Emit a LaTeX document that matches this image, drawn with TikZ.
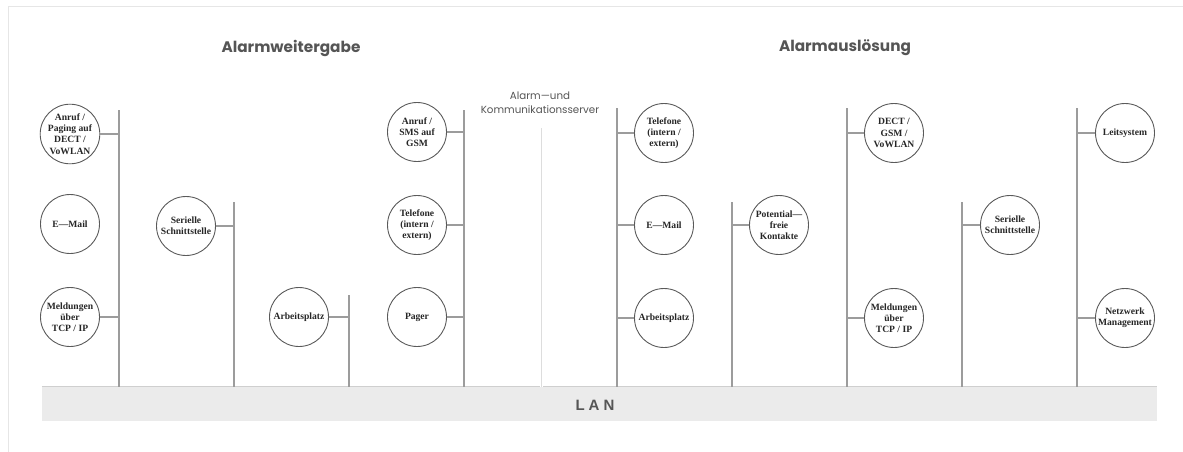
\documentclass[tikz,border=0pt]{standalone}
\usepackage{fontspec}
\setmainfont{Liberation Serif}
\newfontfamily\poppins{Poppins}
\newfontfamily\lansans{Liberation Sans}
\definecolor{busgray}{HTML}{9C9C9C}
\definecolor{circgray}{HTML}{5A5A5A}
\definecolor{titlegray}{HTML}{555555}
\definecolor{lanfill}{HTML}{EBEBEB}
\definecolor{lanedge}{HTML}{CFCFCF}
\definecolor{framegray}{HTML}{E6E6E6}
\definecolor{servergray}{HTML}{DDDDDD}
\tikzset{
  dev/.style={circle, draw=circgray, line width=0.9pt, minimum size=59pt, inner sep=0pt,
    align=center, font=\fontsize{9.6}{11.2}\selectfont\bfseries, text=black!85},
  bus/.style={draw=busgray, line width=1.1pt},
  stub/.style={draw=busgray, line width=1.1pt},
  title/.style={font=\poppins\fontsize{15.3}{17}\selectfont\bfseries, text=titlegray},
  lanbar/.style={fill=lanfill, draw=none, minimum width=1115pt, minimum height=34pt, inner sep=0pt,
    font=\lansans\fontsize{15}{15}\selectfont\bfseries, text=titlegray},
}
\begin{document}
\begin{tikzpicture}[x=1pt,y=-1pt]
\useasboundingbox (0,0) rectangle (1183,452);
% frame
\draw[framegray, line width=1pt] (8,452) -- (8,7) -- (1183,7);
% titles
\node[title] (t1) at (291,48) {Alarmweitergabe};
\node[title] (t2) at (845,48) {Alarmauslösung};
\node[font=\poppins\fontsize{10.3}{14}\selectfont, text=titlegray, align=center] (srv) at (540,103) {Alarm—und\\Kommunikationsserver};
% LAN
\node[lanbar] (lan) at (599.5,404) {};
\node[font=\lansans\fontsize{15}{15}\selectfont\bfseries, text=titlegray, inner sep=0pt] (lantext) at (595,405) {L\hspace{4pt}A\hspace{4pt}N};
\draw[lanedge, line width=0.8pt] (lan.north west) -- (lan.north east);
% bus tops
\coordinate (b1) at (119,110);
\coordinate (b2) at (234,202);
\coordinate (b3) at (349,295);
\coordinate (b4) at (464,110);
\coordinate (bs) at (541,128);
\coordinate (b5) at (617,108);
\coordinate (b6) at (732,202);
\coordinate (b7) at (847,108);
\coordinate (b8) at (962,202);
\coordinate (b9) at (1077,108);
\foreach \b in {b1,b2,b3,b4,b5,b6,b7,b8,b9}{
  \draw[bus] (\b) -- (\b |- lan.north);
}
\draw[white, line width=3pt] (bs) -- (bs |- lan.north);
\draw[servergray, line width=1pt] (bs) -- (bs |- lan.north);
% left side devices
\node[dev] (l1) at (70,134) {Anruf /\\Paging auf\\DECT /\\VoWLAN};
\node[dev] (l2) at (70,224) {E—Mail};
\node[dev] (l3) at (70,317) {Meldungen\\über\\TCP / IP};
\node[dev] (l4) at (186,226) {Serielle\\Schnittstelle};
\node[dev] (l5) at (299,317) {Arbeitsplatz};
\node[dev] (l6) at (417,132) {Anruf /\\SMS auf\\GSM};
\node[dev] (l7) at (417,225) {Telefone\\(intern /\\extern)};
\node[dev] (l8) at (417,317) {Pager};
\draw[stub] (l1.east) -- (l1.east -| b1);
\draw[stub] (l3.east) -- (l3.east -| b1);
\draw[stub] (l4.east) -- (l4.east -| b2);
\draw[stub] (l5.east) -- (l5.east -| b3);
\draw[stub] (l6.east) -- (l6.east -| b4);
\draw[stub] (l7.east) -- (l7.east -| b4);
\draw[stub] (l8.east) -- (l8.east -| b4);
% right side devices
\node[dev] (r1) at (664,133) {Telefone\\(intern /\\extern)};
\node[dev] (r2) at (664,225) {E—Mail};
\node[dev] (r3) at (664,318) {Arbeitsplatz};
\node[dev] (r4) at (779,225) {Potential—\\freie\\Kontakte};
\node[dev] (r5) at (894,133) {DECT /\\GSM /\\VoWLAN};
\node[dev] (r6) at (894,318) {Meldungen\\über\\TCP / IP};
\node[dev] (r7) at (1010,225) {Serielle\\Schnittstelle};
\node[dev] (r8) at (1125,133) {Leitsystem};
\node[dev] (r9) at (1125,318) {Netzwerk\\Management};
\draw[stub] (r1.west) -- (r1.west -| b5);
\draw[stub] (r2.west) -- (r2.west -| b5);
\draw[stub] (r3.west) -- (r3.west -| b5);
\draw[stub] (r4.west) -- (r4.west -| b6);
\draw[stub] (r5.west) -- (r5.west -| b7);
\draw[stub] (r6.west) -- (r6.west -| b7);
\draw[stub] (r7.west) -- (r7.west -| b8);
\draw[stub] (r8.west) -- (r8.west -| b9);
\draw[stub] (r9.west) -- (r9.west -| b9);
\end{tikzpicture}
\end{document}
